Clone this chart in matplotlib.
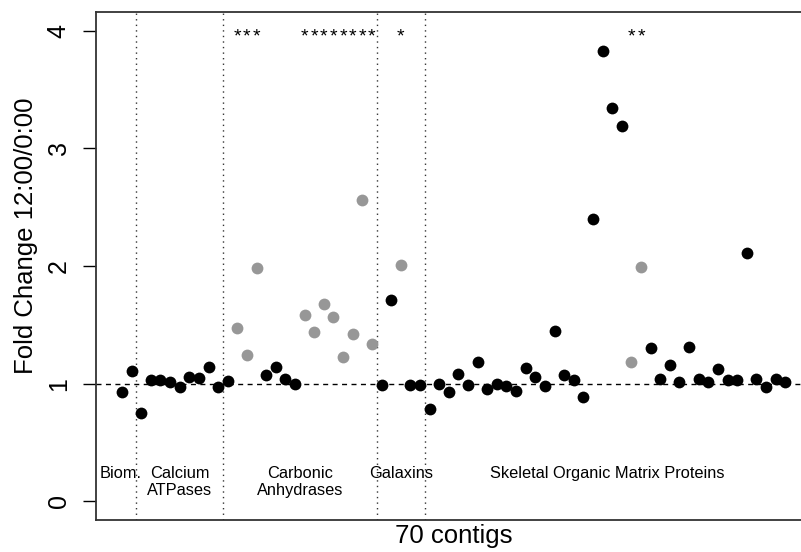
import matplotlib
matplotlib.use('Agg')
import matplotlib.pyplot as plt
import numpy as np

plt.rcParams['font.family'] = ['Liberation Sans', 'DejaVu Sans']

# fold change per contig, in plotting order
fold_change = [0.93, 1.11,
               0.75, 1.03, 1.03, 1.01, 0.97, 1.06, 1.05, 1.14, 0.97,
               1.02, 1.47, 1.24, 1.98, 1.07, 1.14, 1.04, 1.00, 1.58, 1.44,
               1.68, 1.57, 1.23, 1.42, 2.56, 1.34,
               0.99, 1.71, 2.01, 0.99, 0.99,
               0.78, 1.00, 0.93, 1.08, 0.99, 1.18, 0.95, 1.00, 0.98, 0.94,
               1.13, 1.06, 0.98, 1.45, 1.07, 1.03, 0.89, 2.40, 3.83, 3.34,
               3.19, 1.18, 1.99, 1.30, 1.04, 1.16, 1.01, 1.31, 1.04, 1.01,
               1.12, 1.03, 1.03, 2.11, 1.04, 0.97, 1.04, 1.01]
# 1 = significant (grey dot + asterisk)
significant = [0, 0,
               0, 0, 0, 0, 0, 0, 0, 0, 0,
               0, 1, 1, 1, 0, 0, 0, 0, 1, 1,
               1, 1, 1, 1, 1, 1,
               0, 0, 1, 0, 0,
               0, 0, 0, 0, 0, 0, 0, 0, 0, 0,
               0, 0, 0, 0, 0, 0, 0, 0, 0, 0,
               0, 1, 1, 0, 0, 0, 0, 0, 0, 0,
               0, 0, 0, 0, 0, 0, 0, 0]
group_names = ['Biom.', 'Calcium\nATPases', 'Carbonic\nAnhydrases', 'Galaxins',
               'Skeletal Organic Matrix Proteins']
group_sizes = [2, 9, 16, 5, 38]

fc = np.array(fold_change)
sig = np.array(significant) == 1
x = np.arange(1, len(fc) + 1)

fig = plt.figure(figsize=(8.01, 5.52), dpi=100)
ax = fig.add_axes([95.5/801, 32/552, 716.2/801, 508/552])

ax.axhline(1, color='black', lw=1, ls=(0, (3.6, 3.2)), zorder=1)

ends = np.cumsum(group_sizes)
for e in ends[:-1]:
    ax.axvline(e + 0.5, color='#333333', lw=1, ls=(0, (1, 3)), zorder=1)

ax.plot(x[~sig], fc[~sig], 'o', color='black', ms=8.5, mec='none', zorder=3)
ax.plot(x[sig], fc[sig], 'o', color='#979797', ms=8.5, mec='none', zorder=3)

# asterisks over the significant contigs
for xi in x[sig]:
    ax.text(xi, 3.95, '*', ha='center', va='center', fontsize=14)

# group labels
starts = ends - np.array(group_sizes) + 1
for name, s, e in zip(group_names, starts, ends):
    cx = (s + e) / 2
    if name == 'Biom.':
        cx = 0.9
    ax.text(cx, 0.30, name, ha='center', va='top', fontsize=11.8)

ax.set_xlim(-1.76, 72.76)
ax.set_ylim(-0.16, 4.16)
ax.set_xticks([])
ax.set_yticks([0, 1, 2, 3, 4])
ax.set_yticklabels(['0', '1', '2', '3', '4'], rotation=90, va='center')
ax.tick_params(axis='y', length=9.4, width=1, labelsize=18, pad=8.5)
for sp in ax.spines.values():
    sp.set_linewidth(1.3)
    sp.set_color('#333333')

ax.set_xlabel('70 contigs', fontsize=18.5, labelpad=3)
ax.set_ylabel('Fold Change 12:00/0:00', fontsize=18.5)
ax.yaxis.set_label_coords(-0.08, 0.56)

fig.savefig('out.png', dpi=100)
